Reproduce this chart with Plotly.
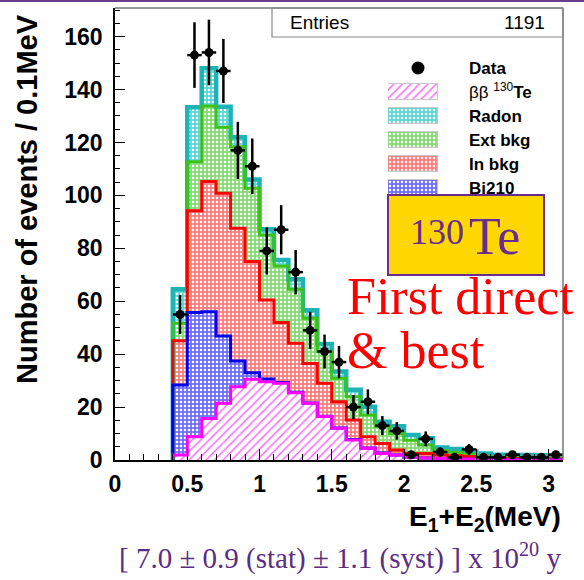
import numpy as np
import plotly.graph_objects as go

# ---------------- data ----------------
BIN_WIDTH = 0.1
BIN_LOW = [0.0, 0.1, 0.2, 0.3, 0.4, 0.5, 0.6, 0.7, 0.8, 0.9, 1.0, 1.1, 1.2, 1.3, 1.4, 1.5,
           1.6, 1.7, 1.8, 1.9, 2.0, 2.1, 2.2, 2.3, 2.4, 2.5, 2.6, 2.7, 2.8, 2.9, 3.0]

BB_TE130 = [0, 0, 0, 0, 1.9, 8.8, 15.7, 21.4, 27.7, 30.5, 29.6, 29.0, 25.4, 21.4, 16.4, 12.0,
            7.6, 4.4, 2.5, 1.9, 1.0, 0.8, 0.6, 0.4, 0.3, 0.2, 0.1, 0.1, 0, 0, 0]
BI210 = [0, 0, 0, 0, 26.4, 46.9, 40.3, 25.5, 9.7, 2.5, 1.0, 0.3, 0.2, 0.1, 0.1, 0.1,
         0.1, 0.1, 0.1, 0, 0, 0, 0, 0, 0, 0, 0, 0, 0, 0, 0]
IN_BKG = [0, 0, 0, 0, 16.8, 38.5, 49.2, 53.9, 50.2, 42.0, 29.9, 22.7, 18.5, 15.0, 12.5, 9.9,
          7.4, 4.3, 3.6, 1.9, 1.5, 1.7, 1.3, 1.2, 1.0, 0.6, 0.6, 0.5, 0.6, 0.5, 0.4]
EXT_BKG = [0, 0, 0, 0, 6.6, 18.5, 28.6, 24.9, 30.8, 27.7, 24.5, 21.3, 20.4, 17.1, 11.9, 8.9,
           8.8, 8.2, 6.5, 6.2, 5.0, 3.2, 1.6, 1.3, 0.9, 0.8, 0.3, 0.3, 0.2, 0.3, 0.3]
RADON = [0, 0, 0, 0, 12.8, 20.6, 14.2, 7.8, 3.6, 3.3, 2.2, 2.3, 3.8, 3.0, 2.9, 2.5,
         2.6, 3.1, 1.8, 2.8, 1.9, 2.5, 1.2, 1.3, 1.0, 0.9, 1.0, 1.0, 1.1, 1.0, 0.9]

DATA = [None, None, None, None, 55, 153, 154, 147, 117, 111, 79, 87, 71, 49, 41, 37,
        20, 22, 13, 11, 2, 8, 3, 1, 4, 1, 1, 2, 1, 1, 2]
DATA_ERR = [None, None, None, None, 7.4, 12.4, 12.4, 12.1, 10.8, 10.5, 8.9, 9.3, 8.4, 7.0, 6.4, 6.1,
            4.5, 4.7, 3.6, 3.3, 1.4, 2.8, 1.7, 1.0, 2.0, 1.0, 1.0, 1.4, 1.0, 1.0, 1.4]

ENTRIES = 1191
LEGEND_ROWS = ["Bi210", "In bkg", "Ext bkg", "Radon", "bb", "Data"]
LEGEND_LABELS = {
    "Data": "<b>Data</b>",
    "bb": "ββ <sup>130</sup><b>Te</b>",
    "Radon": "<b>Radon</b>",
    "Ext bkg": "<b>Ext bkg</b>",
    "In bkg": "<b>In bkg</b>",
    "Bi210": "<b>Bi210</b>",
}
X_TITLE = "<b>E<sub>1</sub>+E<sub>2</sub>(MeV)</b>"
Y_TITLE = "<b>Number of events / 0.1MeV</b>"
RESULT = "[ 7.0 ± 0.9 (stat) ± 1.1 (syst) ] x 10<sup>20</sup> y"

# ---------------- geometry (pixels) ----------------
W, H = 584, 580
L, R, T, B = 115, 21, 8, 120
PW, PH = W - L - R, H - T - B


def px(x):
    return (x - L) / PW


def py(y):
    return (H - B - y) / PH


lo = np.array(BIN_LOW)
centers = lo + BIN_WIDTH / 2
edges = np.append(lo, lo[-1] + BIN_WIDTH)

# component styles: (key, values, fill bg, pattern shape, fg, outline colour, outline width)
components = [
    ("bb", BB_TE130, "white", "/", "#ff55ff", "#ff00ff", 3),
    ("Bi210", BI210, "#6f6fff", ".", "white", "#0000ee", 3),
    ("In bkg", IN_BKG, "#ff7b7b", ".", "white", "#ff0000", 3),
    ("Ext bkg", EXT_BKG, "#86da74", ".", "white", "#3cc31a", 3),
    ("Radon", RADON, "#5dd6d6", ".", "white", "#1fb3b8", 4.5),
]


def pattern(bg, shape, fg):
    if shape == "/":
        return dict(shape="/", bgcolor=bg, fgcolor=fg, size=6, solidity=0.22, fillmode="replace")
    return dict(shape=".", bgcolor=bg, fgcolor=fg, size=4, solidity=0.3, fillmode="replace")


fig = go.Figure()

# stacked histogram fills
for key, vals, bg, shape, fg, lc, lw in components:
    fig.add_trace(go.Bar(
        x=centers, y=vals, width=BIN_WIDTH,
        marker=dict(color=bg, line=dict(width=0), pattern=pattern(bg, shape, fg)),
        showlegend=False, hoverinfo="skip",
    ))

# outlines (cumulative steps), drawn from top of stack down
cum = np.cumsum(np.array([c[1] for c in components], dtype=float), axis=0)
first = int(np.argmax(cum[-1] > 0))
for i in range(len(components) - 1, -1, -1):
    c = cum[i]
    xs = np.concatenate([[edges[first]], edges[first:]])
    ys = np.concatenate([[0], c[first:], [c[-1]]])
    fig.add_trace(go.Scatter(
        x=xs, y=ys, mode="lines", line=dict(shape="hv", color=components[i][5], width=components[i][6]),
        showlegend=False, hoverinfo="skip",
    ))

# data points
d_idx = [i for i, v in enumerate(DATA) if v is not None]
fig.add_trace(go.Scatter(
    x=centers[d_idx], y=[DATA[i] for i in d_idx], mode="markers",
    marker=dict(color="black", size=9, symbol="circle"),
    error_y=dict(type="data", array=[DATA_ERR[i] for i in d_idx], color="black", thickness=2.5, width=0),
    error_x=dict(type="constant", value=BIN_WIDTH / 2, color="black", thickness=2.5, width=0),
    showlegend=False, hoverinfo="skip",
))

# legend drawn on its own small axes
for key, vals, bg, shape, fg, lc, lw in components:
    fig.add_trace(go.Bar(
        x=[1], y=[key], base=0, width=0.66, orientation="h", xaxis="x2", yaxis="y2",
        marker=dict(color=bg, line=dict(width=1, color="#c8c8c8"), pattern=pattern(bg, shape, fg)),
        showlegend=False, hoverinfo="skip",
    ))
fig.add_trace(go.Scatter(
    x=[0.6], y=["Data"], mode="markers", xaxis="x2", yaxis="y2",
    marker=dict(color="black", size=13), showlegend=False, hoverinfo="skip",
))

font_b = dict(family="Liberation Sans", size=23, color="black", weight="bold")

fig.update_layout(
    width=W, height=H,
    margin=dict(l=L, r=R, t=T, b=B, pad=0),
    paper_bgcolor="white", plot_bgcolor="white",
    barmode="stack", bargap=0,
    font=dict(family="Liberation Sans", color="black"),
    xaxis=dict(
        range=[0, 3.1], domain=[0, 1], dtick=0.5, tick0=0,
        showline=True, linecolor="black", linewidth=1.5, mirror=False,
        ticks="inside", ticklen=11, tickwidth=1, tickcolor="black",
        minor=dict(ticks="inside", ticklen=6, dtick=0.1, tickcolor="black", tickwidth=1),
        tickfont=font_b, showgrid=False, zeroline=False, ticklabelstandoff=3,
    ),
    yaxis=dict(
        range=[0, 170.8], domain=[0, 1], dtick=20, tick0=0,
        showline=True, linecolor="black", linewidth=1.5, mirror=False,
        ticks="inside", ticklen=10, tickwidth=1, tickcolor="black",
        minor=dict(ticks="inside", ticklen=5, dtick=5, tickcolor="black", tickwidth=1),
        tickfont=font_b, showgrid=False, zeroline=False, ticklabelstandoff=6,
    ),
    xaxis2=dict(
        domain=[px(388), px(438)], range=[0, 1], anchor="y2",
        showline=False, showgrid=False, zeroline=False, showticklabels=False, ticks="",
    ),
    yaxis2=dict(
        domain=[py(200), py(56)], range=[-0.5, 5.5], anchor="x2", side="right",
        type="category", categoryorder="array", categoryarray=LEGEND_ROWS,
        tickmode="array", tickvals=LEGEND_ROWS, ticktext=[LEGEND_LABELS[k] for k in LEGEND_ROWS],
        showline=False, showgrid=False, zeroline=False, ticks="",
        tickfont=dict(family="Liberation Sans", size=17, color="black"),
        ticklabelstandoff=30,
    ),
)

shapes = [
    # top purple slide line
    dict(type="line", xref="paper", yref="paper", x0=px(0), x1=px(W), y0=py(1), y1=py(1),
         line=dict(color="#6a3d8f", width=2)),
    # frame top / right
    dict(type="line", xref="paper", yref="paper", x0=0, x1=1, y0=1, y1=1,
         line=dict(color="#777777", width=1.5)),
    dict(type="line", xref="paper", yref="paper", x0=1, x1=1, y0=0, y1=1,
         line=dict(color="#777777", width=1.5)),
    # Entries box
    dict(type="rect", xref="paper", yref="paper", x0=px(272), x1=1, y0=py(37), y1=1,
         line=dict(color="#888888", width=1.2), fillcolor="rgba(0,0,0,0)"),
    # yellow 130Te box
    dict(type="rect", xref="paper", yref="paper", x0=px(388), x1=px(544), y0=py(275), y1=py(195),
         line=dict(color="#6a2c91", width=2), fillcolor="#ffd700", layer="above"),
]
fig.update_layout(shapes=shapes)

serif = "Liberation Serif"
ann = [
    dict(text="Entries", x=px(288), y=py(22), xanchor="left", yanchor="middle",
         font=dict(size=19, color="black")),
    dict(text=str(ENTRIES), x=px(547), y=py(22), xanchor="right", yanchor="middle",
         font=dict(size=19, color="black")),
    dict(text="130", x=px(437), y=py(232), xanchor="center", yanchor="middle",
         font=dict(family=serif, size=36, color="#6a2c91")),
    dict(text="Te", x=px(494.5), y=py(236), xanchor="center", yanchor="middle",
         font=dict(family=serif, size=52, color="#6a2c91")),
    dict(text="First direct", x=px(345), y=py(296), xanchor="left", yanchor="middle",
         font=dict(family=serif, size=52, color="#ff0000")),
    dict(text="&amp; best", x=px(345), y=py(350), xanchor="left", yanchor="middle",
         font=dict(family=serif, size=52, color="#ff0000")),
    dict(text=X_TITLE, x=1, y=py(518), xanchor="right", yanchor="middle",
         font=dict(family="Liberation Sans", size=28, color="black")),
    dict(text=Y_TITLE, x=px(27), y=py(12), xanchor="center", yanchor="top", textangle=-90,
         font=dict(family="Liberation Sans", size=29, color="black")),
    dict(text=RESULT, x=px(340), y=py(556), xanchor="center", yanchor="middle",
         font=dict(family=serif, size=29, color="#5a2d82")),
]
for a in ann:
    a.update(xref="paper", yref="paper", showarrow=False)
fig.update_layout(annotations=ann)

fig.write_html("out.html", config={"displayModeBar": False},
               post_script="document.body.style.margin='0';")
